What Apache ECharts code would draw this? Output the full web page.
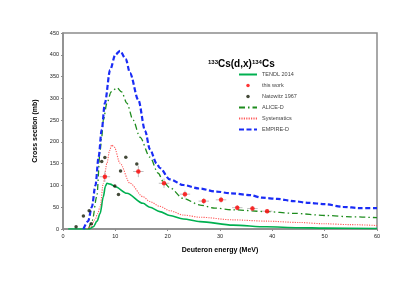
<!DOCTYPE html>
<html><head><meta charset="utf-8">
<script src="https://cdn.jsdelivr.net/npm/echarts@6/dist/echarts.min.js"></script>
<style>html,body{margin:0;padding:0;background:#fff}#c{width:415px;height:294px}</style>
</head><body><div id="c"></div>
<script>
// ---- data ----
var xTicks = [0, 10, 20, 30, 40, 50, 60];
var yTicks = [0, 50, 100, 150, 200, 250, 300, 350, 400, 450];

var tendlE = [1, 5, 5.8, 6.5, 7.1, 7.7, 8.1, 8.4, 9, 10, 12.2, 15.3, 16.6, 18.5, 20.4, 23, 26.2, 32.5, 38.9, 45, 50, 60];
var tendlS = [0, 0, 5, 18, 36, 74, 98, 105, 103, 97, 82, 59, 50, 40, 31, 23, 17, 9, 5, 3, 2, 1];

var thisWorkE  = [8.0, 14.4, 19.3, 23.3, 26.9, 30.2, 33.3, 36.2, 39.0];
var thisWorkS  = [120, 132, 105, 80, 64, 67, 49, 47, 41];
var thisWorkDE = [1, 1, 1, 1, 1, 1, 1, 1, 1];
var thisWorkDS = [12, 13, 11, 8, 7, 7, 6, 6, 5];

var natowitzE = [2.5, 3.9, 5.0, 5.4, 7.4, 8.0, 9.9, 10.6, 11.0, 12.0, 14.1];
var natowitzS = [5, 30, 42, 12, 155, 164, 99, 79, 133, 165, 149];

var aliceE = [4.9, 5.6, 6.45, 7.1, 7.4, 7.7, 8.4, 9.2, 10.3, 11.2, 12.2, 13.4, 14.7, 16.6, 18.2, 19.2, 20.4, 23, 26.2, 29, 32.5, 38.9, 44, 50.3, 55, 60];
var aliceS = [0, 20, 74, 181, 211, 250, 289, 315, 324, 315, 289, 250, 211, 165, 128, 108, 95, 70, 55, 48, 44, 40, 36, 31, 28, 26];

var systE = [4.5, 5.3, 6.1, 6.6, 7.1, 7.7, 8.4, 8.9, 9.3, 9.8, 10.9, 12.8, 15.3, 16.6, 18.5, 20.4, 23, 26.2, 32.5, 38.9, 45, 50, 55, 60];
var systS = [0, 5, 21, 35, 51, 105, 151, 180, 193, 188, 151, 105, 74, 63, 52, 42, 32, 27, 21, 18, 15, 12, 10, 8];

var empireE = [3.9, 4.8, 5.5, 6.2, 6.8, 7.4, 8, 9, 10, 10.9, 12, 12.8, 14.4, 15.7, 16.6, 17.9, 18.5, 20.4, 23, 26, 29.3, 32, 35.7, 38, 41, 44, 47, 50, 53.5, 56.7, 60];
var empireS = [0, 18, 50, 100, 165, 228, 289, 365, 400, 409, 390, 358, 296, 225, 183, 150, 140, 114, 101, 93, 86, 82, 78, 72, 69, 64, 60, 57, 51, 48, 48];

var seriesNames = ['TENDL 2014', 'this work', 'Natowitz 1967', 'ALICE-D', 'Systematics', 'EMPIRE-D'];

function pairs(a, b) { return a.map(function (v, i) { return [v, b[i]]; }); }

var chart = echarts.init(document.getElementById('c'));
var FONT = 'Liberation Sans, Arial, sans-serif';

var errData = thisWorkE.map(function (e, i) { return [e, thisWorkS[i], thisWorkDE[i], thisWorkDS[i]]; });
var hideSym = { opacity: 0 };

chart.setOption({
  animation: false,
  backgroundColor: '#fff',
  textStyle: { fontFamily: FONT },
  title: {
    text: '{sup|133}Cs(d,x){sup|134}Cs',
    left: 203, top: 54,
    textStyle: {
      fontFamily: FONT, fontSize: 10, fontWeight: 'bold', color: '#000',
      rich: { sup: { fontFamily: FONT, fontSize: 6, fontWeight: 'bold', verticalAlign: 'top', padding: [0, 0, 5, 0], color: '#000' } }
    }
  },
  legend: {
    orient: 'vertical', left: 238, top: 71.5, padding: 0,
    itemWidth: 18, itemHeight: 3.5, itemGap: 5,
    textStyle: { fontFamily: FONT, fontSize: 5.5, color: '#444', lineHeight: 6 },
    data: [
      { name: 'TENDL 2014', itemStyle: hideSym },
      { name: 'this work', icon: 'circle' },
      { name: 'Natowitz 1967', icon: 'circle', itemStyle: { borderWidth: 0 } },
      { name: 'ALICE-D', itemStyle: hideSym },
      { name: 'Systematics', itemStyle: hideSym },
      { name: 'EMPIRE-D', itemStyle: hideSym }
    ]
  },
  grid: { left: 63, right: 38, top: 33, bottom: 65, show: true, borderColor: '#8c8c8c', borderWidth: 1.5 },
  xAxis: {
    type: 'value', min: 0, max: 60, interval: 10,
    name: 'Deuteron energy (MeV)', nameLocation: 'middle', nameGap: 18,
    nameTextStyle: { fontFamily: FONT, fontSize: 7, fontWeight: 'bold', color: '#000' },
    axisLine: { show: true, lineStyle: { color: '#8c8c8c', width: 1.5 } },
    axisTick: { show: true, length: 2, lineStyle: { color: '#8c8c8c' } },
    axisLabel: { fontFamily: FONT, fontSize: 5.5, color: '#222', margin: 4 },
    splitLine: { show: false }
  },
  yAxis: {
    type: 'value', min: 0, max: 450, interval: 50,
    name: 'Cross section (mb)', nameLocation: 'middle', nameGap: 20,
    nameTextStyle: { fontFamily: FONT, fontSize: 7, fontWeight: 'bold', color: '#000' },
    axisLine: { show: true, lineStyle: { color: '#8c8c8c', width: 1.5 } },
    axisTick: { show: true, length: 2, lineStyle: { color: '#8c8c8c' } },
    axisLabel: { fontFamily: FONT, fontSize: 5.5, color: '#222', margin: 4 },
    splitLine: { show: false }
  },
  series: [
    {
      name: 'TENDL 2014', type: 'line', data: pairs(tendlE, tendlS), smooth: 0.3, smoothMonotone: 'x',
      showSymbol: false, symbol: 'none', z: 3,
      lineStyle: { color: '#00b050', width: 1.6, type: 'solid' }, itemStyle: { color: '#00b050' }
    },
    {
      name: 'this work', type: 'scatter', data: pairs(thisWorkE, thisWorkS), symbol: 'circle', symbolSize: 4.5, z: 6,
      itemStyle: { color: '#ff0000' }
    },
    {
      name: 'Natowitz 1967', type: 'scatter', data: pairs(natowitzE, natowitzS), symbol: 'circle', symbolSize: 3.5, z: 6,
      itemStyle: { color: '#141c06' }
    },
    {
      name: 'ALICE-D', type: 'line', data: pairs(aliceE, aliceS), smooth: 0.3, smoothMonotone: 'x',
      showSymbol: false, symbol: 'none', z: 3,
      lineStyle: { color: '#1e8c1e', width: 1.3, type: [6, 3, 1.5, 3] }, itemStyle: { color: '#1e8c1e' }
    },
    {
      name: 'Systematics', type: 'line', data: pairs(systE, systS), smooth: 0.3, smoothMonotone: 'x',
      showSymbol: false, symbol: 'none', z: 3,
      lineStyle: { color: '#ff5a5a', width: 1.1, type: [1.2, 1.2] }, itemStyle: { color: '#ff5a5a' }
    },
    {
      name: 'EMPIRE-D', type: 'line', data: pairs(empireE, empireS), smooth: 0.3, smoothMonotone: 'x',
      showSymbol: false, symbol: 'none', z: 4,
      lineStyle: { color: '#1a2cf5', width: 2.2, type: [5, 2.5] }, itemStyle: { color: '#1a2cf5' }
    },
    {
      name: 'err', type: 'custom', data: errData, z: 5, silent: true,
      renderItem: function (params, api) {
        var x = api.value(0), y = api.value(1), dx = api.value(2), dy = api.value(3);
        var l = api.coord([x - dx, y]), r = api.coord([x + dx, y]);
        var t = api.coord([x, y + dy]), b = api.coord([x, y - dy]);
        var st = { stroke: '#b0b0b0', lineWidth: 0.8 };
        return { type: 'group', children: [
          { type: 'line', shape: { x1: l[0], y1: l[1], x2: r[0], y2: r[1] }, style: st },
          { type: 'line', shape: { x1: t[0], y1: t[1], x2: b[0], y2: b[1] }, style: st }
        ] };
      }
    }
  ]
});
</script></body></html>
